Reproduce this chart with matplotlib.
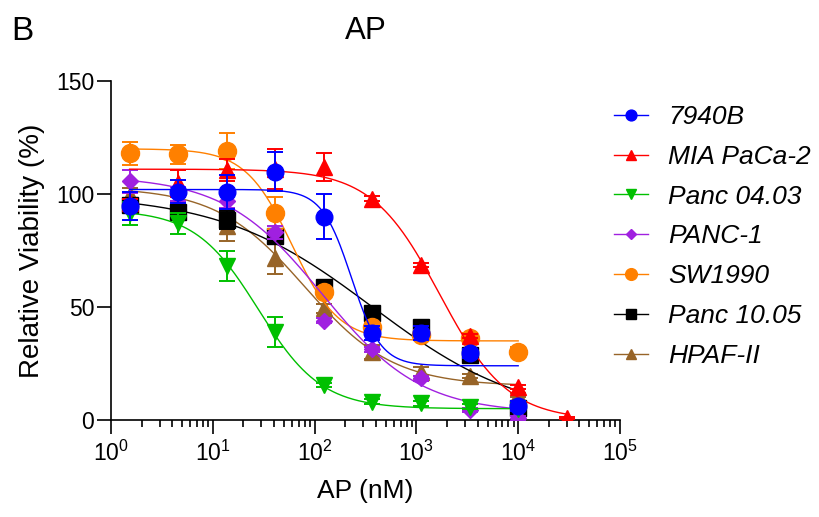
import numpy as np
import matplotlib.pyplot as plt

plt.rcParams["font.family"] = ["Liberation Sans", "DejaVu Sans"]
plt.rcParams["mathtext.fontset"] = "custom"
plt.rcParams["mathtext.rm"] = "Liberation Sans"
plt.rcParams["mathtext.it"] = "Liberation Sans:italic"

# concentrations (nM), 3-fold dilution series
conc = [1.524, 4.572, 13.72, 41.15, 123.5, 370.4, 1111, 3333, 10000]
conc_mia = conc + [30000]

names = ["7940B", "MIA PaCa-2", "Panc 04.03", "PANC-1", "SW1990", "Panc 10.05", "HPAF-II"]
colors = ["#0000FF", "#FF0000", "#00C000", "#A020E0", "#FF8000", "#000000", "#976428"]
markers = ["o", "^", "v", "D", "o", "s", "^"]
msizes = [12, 11, 11, 8, 13, 11, 12]

via_7940b = [94.7, 101.0, 101.0, 109.9, 90.0, 38.4, 38.4, 29.5, 6.2]
via_mia = [96.0, 104.8, 110.6, 111.0, 112.0, 98.0, 68.6, 37.2, 14.7, 0.8]
via_panc0403 = [91.5, 87.0, 68.0, 39.0, 15.5, 8.1, 7.4, 5.9, 5.0]
via_panc1 = [105.6, 100.0, 97.0, 83.0, 44.0, 31.3, 18.4, 4.4, 0.7]
via_sw1990 = [118.0, 117.5, 119.0, 91.5, 56.8, 41.0, 37.8, 36.3, 30.2]
via_panc1005 = [95.1, 92.2, 88.5, 81.4, 59.0, 47.5, 41.0, 28.8, 5.2]
via_hpaf = [99.6, 97.0, 86.0, 71.5, 49.4, 30.0, 21.4, 19.5, 11.0]

sd_7940b = [6, 5, 7.5, 8.5, 10, 3, 3, 2, 2]
sd_mia = [2, 6, 5, 8.7, 6.2, 1, 1, 1, 1, 0.5]
sd_panc0403 = [5, 4.5, 6.6, 6.6, 1, 1, 1, 1, 1]
sd_panc1 = [5, 3, 3, 3, 1, 1, 1, 1, 1]
sd_sw1990 = [5, 4, 8, 7, 2, 2, 2, 2, 2]
sd_panc1005 = [3, 3, 4, 3, 2, 2, 2, 2, 2]
sd_hpaf = [3, 3, 7, 7, 2, 3, 2, 1, 1]

# fitted 4PL parameters: top, bottom, IC50 (nM), Hill slope
fit_top = [102, 111, 93, 108, 120, 100, 103]
fit_bottom = [24, 0, 5, 3, 35, 0, 15]
fit_ic50 = [230, 1700, 28, 120, 60, 370, 80]
fit_hill = [3.0, 1.3, 1.4, 0.9, 1.9, 0.58, 1.0]

all_via = [via_7940b, via_mia, via_panc0403, via_panc1, via_sw1990, via_panc1005, via_hpaf]
all_sd = [sd_7940b, sd_mia, sd_panc0403, sd_panc1, sd_sw1990, sd_panc1005, sd_hpaf]


def four_pl(x, top, bottom, ic50, hill):
    return bottom + (top - bottom) / (1 + (x / ic50) ** hill)


fig = plt.figure(figsize=(8.19, 5.17), dpi=100)
ax = fig.add_axes([0.1355, 0.1876, 0.6215, 0.6557])

for i, name in enumerate(names):
    xs = conc_mia if name == "MIA PaCa-2" else conc
    xfit = np.logspace(np.log10(xs[0]), np.log10(xs[-1]), 300)
    yfit = four_pl(xfit, fit_top[i], fit_bottom[i], fit_ic50[i], fit_hill[i])
    z = 20 - 2 * i
    ax.plot(xfit, yfit, color=colors[i], lw=1.0, zorder=z - 1)
    ax.errorbar(xs, all_via[i], yerr=all_sd[i], fmt="none", ecolor=colors[i],
                elinewidth=1.4, capsize=6, capthick=1.4, zorder=z)
    ax.plot(xs, all_via[i], linestyle="none", marker=markers[i], ms=msizes[i],
            color=colors[i], zorder=z + 0.5)
    # legend proxy
    ax.plot([], [], color=colors[i], lw=1.0, marker=markers[i],
            ms=msizes[i] * 0.65, label=name)

ax.set_xscale("log")
ax.set_xlim(1, 1e5)
ax.set_ylim(0, 150)
ax.set_yticks([0, 50, 100, 150])
ax.set_xticks([1, 10, 100, 1000, 1e4, 1e5])
ax.set_xticklabels([r"$10^{%d}$" % k for k in range(6)])
ax.minorticks_on()
ax.yaxis.set_minor_locator(plt.NullLocator())
ax.spines["top"].set_visible(False)
ax.spines["right"].set_visible(False)
for s in ["left", "bottom"]:
    ax.spines[s].set_linewidth(1.2)
ax.tick_params(axis="both", which="major", length=10, width=1.2, labelsize=16.5)
ax.tick_params(axis="x", which="major", pad=5)
ax.tick_params(axis="y", which="major", pad=2)
ax.tick_params(axis="x", which="minor", length=5, width=1.2)
ax.set_xlabel("AP (nM)", fontsize=19, labelpad=9)
ax.set_ylabel("Relative Viability (%)", fontsize=20, labelpad=8)
ax.set_title("AP", fontsize=22.5, pad=30)

fig.text(0.014, 0.9226, "B", fontsize=24, va="baseline")

leg = ax.legend(loc="upper left", bbox_to_anchor=(0.7206, 0.843), bbox_transform=fig.transFigure,
                frameon=False, labelspacing=0.6, handlelength=1.29,
                handletextpad=0.76, prop={"style": "italic", "size": 19})

fig.savefig("out.png", dpi=100)
